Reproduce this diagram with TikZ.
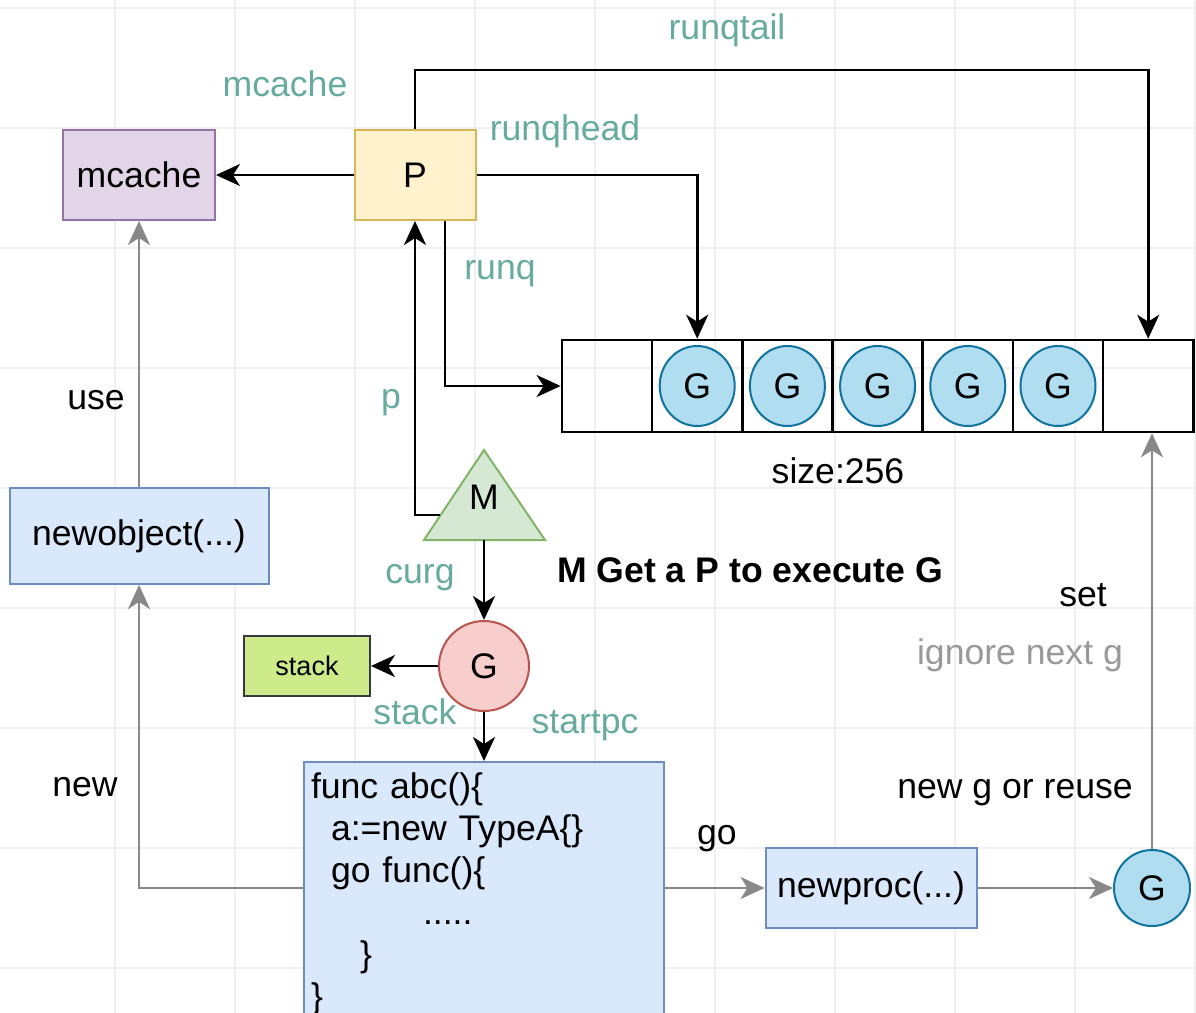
\documentclass[tikz,border=0pt]{standalone}
\usepackage{fontspec}
\setmainfont{Liberation Sans}
\usepackage{xcolor}
\usetikzlibrary{arrows.meta,shapes.geometric,positioning}

\definecolor{labelteal}{HTML}{67AB9F}
\definecolor{notegray}{HTML}{999999}
\definecolor{linegray}{HTML}{888888}
\definecolor{gridgray}{HTML}{F0F0F0}
\newcommand{\normtxt}{\fontsize{17.8}{21}\selectfont}
\newcommand{\smalltxt}{\fontsize{13.5}{16}\selectfont}

\begin{document}
\begin{tikzpicture}[x=0.5pt,y=-0.5pt,
    every node/.style={font=\normtxt},
    box/.style={rectangle, draw, line width=1pt, inner sep=0pt},
    cachebox/.style={box, fill={rgb,255:red,225;green,213;blue,231}, draw={rgb,255:red,150;green,115;blue,166}},
    pbox/.style={box, fill={rgb,255:red,255;green,242;blue,204}, draw={rgb,255:red,214;green,182;blue,86}},
    funcbox/.style={box, fill={rgb,255:red,218;green,232;blue,252}, draw={rgb,255:red,108;green,142;blue,191}},
    stackbox/.style={box, fill={rgb,255:red,205;green,235;blue,139}, draw={rgb,255:red,54;green,57;blue,61}, font=\smalltxt},
    cell/.style={rectangle, draw, line width=1.3pt, minimum width=45.1pt, minimum height=46pt, inner sep=0pt},
    gblue/.style={ellipse, draw={rgb,255:red,16;green,115;blue,158}, line width=1pt, fill={rgb,255:red,177;green,221;blue,240}, minimum width=37.5pt, minimum height=40pt, inner sep=0pt},
    gred/.style={circle, draw={rgb,255:red,184;green,84;blue,80}, line width=1pt, fill={rgb,255:red,248;green,206;blue,204}, minimum size=45pt, inner sep=0pt},
    tlabel/.style={text=labelteal},
    arrow/.style={-{Stealth[length=12pt,width=11pt,inset=3.5pt]}, line width=1.3pt},
    grayarrow/.style={-{Stealth[length=12pt,width=11pt,inset=3.5pt]}, line width=1.2pt, draw=linegray}
]
\clip (0,0) rectangle (1196,1013);

% background grid
\foreach \gx in {115,235,...,1195}
    \draw[gridgray, line width=0.6pt] (\gx,0) -- (\gx,1013);
\foreach \gy in {8,128,...,1008}
    \draw[gridgray, line width=0.6pt] (0,\gy) -- (1196,\gy);

% top row
\node[cachebox, minimum width=76pt, minimum height=45pt] (mcache) at (139,175) {mcache};
\node[pbox, minimum width=60.5pt, minimum height=45pt] (P) at (415,175) {P};

% run queue
\foreach \i in {0,...,6}
    \node[cell] (q\i) at (607+90.2*\i,386) {};
\foreach \i in {1,...,5}
    \node[gblue] (g\i) at (q\i) {G};
\node (size) at (838,471) {size:256};

% M and its G
\coordinate (Mbl) at (424,540);
\coordinate (Mtop) at (484,450);
\coordinate (Mbr) at (545,540);
\draw[line width=1pt, fill={rgb,255:red,213;green,232;blue,212}, draw={rgb,255:red,130;green,179;blue,102}] (Mbl) -- (Mtop) -- (Mbr) -- cycle;
\node (M) at (484,497) {M};
\coordinate (Mleft) at (440,515);
\coordinate (Mbase) at (484,540);
\node[gred] (gcur) at (484,666) {G};
\node[stackbox, minimum width=63pt, minimum height=30pt] (stack) at (307,666) {stack};

% code and helpers
\node[funcbox, minimum width=180pt, minimum height=132pt, text width=173pt, inner xsep=3.5pt, align=left] (code) at (484,894)
    {func abc()\{\\\hspace*{10pt}a:=new TypeA\{\}\\\hspace*{10pt}go func()\{\\\hspace*{56pt}.....\\\hspace*{24.5pt}\}\\\}};
\node[funcbox, minimum width=129.5pt, minimum height=48pt] (newobj) at (139,536) {newobject(...)};
\node[funcbox, minimum width=105.5pt, minimum height=40pt] (newproc) at (871,888) {newproc(...)};
\node[gblue, minimum width=38pt, minimum height=38pt] (gnew) at (1152,888) {G};

% black connections
\draw[arrow] (P) -- (mcache);
\draw[arrow] (P.north) -- ++(0,-59) -| (q6.north);
\draw[arrow] (P.east) -| (q1.north);
\draw[arrow] ([xshift=15pt]P.south) |- (q0.west);
\draw[arrow] (Mleft) -| (P.south);
\draw[arrow] (Mbase) -- (gcur);
\draw[arrow] (gcur) -- (stack);
\draw[arrow] (gcur) -- (code);

% gray connections
\draw[grayarrow] (code.west |- newproc) -| (newobj.south);
\draw[grayarrow] (newobj) -- (mcache);
\draw[grayarrow] (code.east |- newproc) -- (newproc);
\draw[grayarrow] (newproc) -- (gnew);
\draw[grayarrow] (gnew) -- (gnew |- q6.south);

% labels
\node[tlabel] (lmcache) at (285,84) {mcache};
\node[tlabel] (ltail) at (727,30) {runqtail};
\node[tlabel] (lhead) at (565,131) {runqhead};
\node[tlabel] (lrunq) at (500,274) {runq};
\node[tlabel] (lp) at (391,403) {p};
\node[tlabel] (lcurg) at (420,578) {curg};
\node[tlabel] (lstack) at (415,712) {stack};
\node[tlabel] (lstart) at (585,726) {startpc};
\node (note) at (750,570) {\textbf{M Get a P to execute G}};
\node (luse) at (96,400) {use};
\node (lnew) at (85,787) {new};
\node (lgo) at (717,839) {go};
\node (lset) at (1083,595) {set};
\node[text=notegray] (lignore) at (1020,655) {ignore next g};
\node (lreuse) at (1015,793) {new g or reuse};

\end{tikzpicture}
\end{document}
